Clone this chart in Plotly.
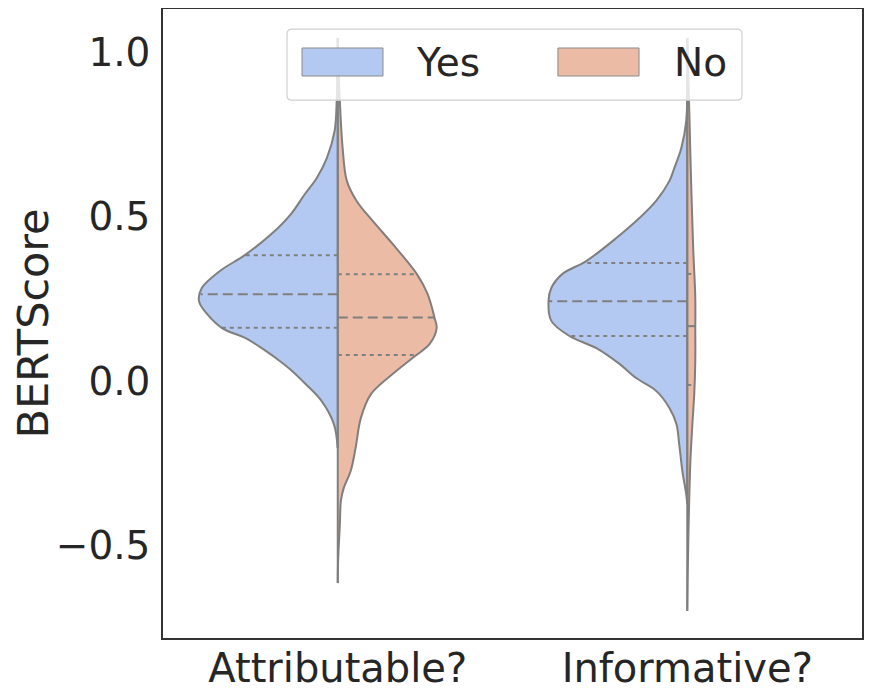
import numpy as np
import plotly.graph_objects as go

# ---- data ----
categories = ["Attributable?", "Informative?"]
hue_levels = ["Yes", "No"]

# KDE profiles: y values (BERTScore) and half-widths (category units)
attr_yes_y = [1.044, 0.852, 0.761, 0.679, 0.618, 0.569, 0.508, 0.447, 0.383, 0.335, 0.283, 0.243,
              0.204, 0.161, 0.131, 0.091, 0.061, 0.030, -0.009, -0.061, -0.131, -0.204]
attr_yes_w = [0.0, 0.003, 0.009, 0.031, 0.060, 0.094, 0.134, 0.190, 0.266, 0.337, 0.389, 0.397,
              0.374, 0.331, 0.265, 0.205, 0.166, 0.130, 0.092, 0.046, 0.011, 0.0]

attr_no_y = [1.044, 0.852, 0.709, 0.609, 0.548, 0.487, 0.417, 0.326, 0.265, 0.192, 0.161, 0.113,
             0.070, 0.021, -0.040, -0.113, -0.204, -0.274, -0.326, -0.365, -0.438, -0.548, -0.615]
attr_no_w = [0.0, 0.006, 0.014, 0.026, 0.054, 0.100, 0.157, 0.226, 0.257, 0.277, 0.283, 0.263,
             0.214, 0.157, 0.095, 0.066, 0.051, 0.037, 0.017, 0.009, 0.006, 0.001, 0.0]

info_yes_y = [1.044, 0.791, 0.709, 0.648, 0.609, 0.548, 0.496, 0.435, 0.365, 0.326, 0.283, 0.243,
              0.183, 0.137, 0.100, 0.052, 0.009, -0.030, -0.082, -0.131, -0.192, -0.274, -0.344, -0.374]
info_yes_w = [0.0, 0.003, 0.017, 0.037, 0.051, 0.089, 0.137, 0.203, 0.289, 0.357, 0.389, 0.397,
              0.389, 0.337, 0.260, 0.194, 0.146, 0.089, 0.051, 0.031, 0.023, 0.014, 0.003, 0.0]

info_no_y = [1.044, 0.813, 0.609, 0.405, 0.253, 0.161, 0.061, -0.040, -0.143, -0.243, -0.344,
             -0.487, -0.609, -0.700]
info_no_w = [0.0, 0.006, 0.011, 0.017, 0.023, 0.023, 0.023, 0.020, 0.014, 0.009, 0.006,
             0.003, 0.001, 0.0]

# quartiles (q1, median, q3)
attr_yes_q = [0.162, 0.264, 0.383]
attr_no_q = [0.079, 0.193, 0.325]
info_yes_q = [0.137, 0.243, 0.359]
info_no_q = [-0.012, 0.167, 0.326]

tick_vals = [-0.5, 0.0, 0.5, 1.0]
tick_text = ["\u22120.5", "0.0", "0.5", "1.0"]

# ---- styling ----
COL_YES = "#B4C9F1"
COL_NO = "#EBBBA5"
EDGE = "#7f7f7f"
TXT = "#262626"
FONT = "DejaVu Sans"

halves = [
    (0, -1, attr_yes_y, attr_yes_w, attr_yes_q, COL_YES),
    (0, +1, attr_no_y, attr_no_w, attr_no_q, COL_NO),
    (1, -1, info_yes_y, info_yes_w, info_yes_q, COL_YES),
    (1, +1, info_no_y, info_no_w, info_no_q, COL_NO),
]

fig = go.Figure()

for c, side, ys, ws, qs, col in halves:
    ys = np.array(ys)
    ws = np.array(ws)
    xs = c + side * ws
    fig.add_trace(go.Scatter(
        x=xs, y=ys, mode="lines", fill="toself", fillcolor=col,
        line=dict(color=EDGE, width=2, shape="spline", smoothing=1.0),
        hoverinfo="skip", showlegend=False))

# center lines
for c, side, ys, ws, qs, col in halves:
    fig.add_trace(go.Scatter(
        x=[c, c], y=[max(ys), min(ys)], mode="lines",
        line=dict(color=EDGE, width=2), hoverinfo="skip", showlegend=False))

# quartile lines
for c, side, ys, ws, qs, col in halves:
    yr = np.array(ys)[::-1]
    wr = np.array(ws)[::-1]
    for i, q in enumerate(qs):
        w = float(np.interp(q, yr, wr))
        dash = "10px,5px" if i == 1 else "4px,4px"
        fig.add_trace(go.Scatter(
            x=[c, c + side * w], y=[q, q], mode="lines",
            line=dict(color=EDGE, width=2, dash=dash),
            hoverinfo="skip", showlegend=False))

# ---- manual legend (paper coords) ----
L, R, T, B = 0.1774, 0.8283, 0.968, 0.855
rx, ry = 5 / 699, 5 / 629
path = (f"M {L+rx},{T} L {R-rx},{T} Q {R},{T} {R},{T-ry} L {R},{B+ry} Q {R},{B} {R-rx},{B} "
        f"L {L+rx},{B} Q {L},{B} {L},{B+ry} L {L},{T-ry} Q {L},{T} {L+rx},{T} Z")
shapes = [dict(type="path", xref="paper", yref="paper", path=path,
               fillcolor="rgba(255,255,255,0.8)", line=dict(color="#d0d0d0", width=1.2),
               layer="above")]
patches = [(0.1989, 0.3147, COL_YES, hue_levels[0], 0.359),
           (0.565, 0.681, COL_NO, hue_levels[1], 0.728)]
annotations = []
for x0, x1, col, lab, tx in patches:
    shapes.append(dict(type="rect", xref="paper", yref="paper", x0=x0, x1=x1,
                       y0=0.8935, y1=0.938, fillcolor=col,
                       line=dict(color="#8a8a8a", width=1), layer="above"))
    annotations.append(dict(xref="paper", yref="paper", x=tx, y=0.9157, text=lab,
                            showarrow=False, xanchor="left", yanchor="middle",
                            font=dict(family=FONT, size=39, color=TXT)))

# page body adds an 8px margin, so the figure is 8px smaller than the window
fig.update_layout(
    width=864, height=690,
    margin=dict(l=155, r=10, t=1, b=60),
    plot_bgcolor="white", paper_bgcolor="white",
    shapes=shapes, annotations=annotations,
    showlegend=False,
    font=dict(family=FONT, color=TXT),
)
fig.update_xaxes(
    range=[-0.5, 1.5], tickmode="array", tickvals=[0, 1], ticktext=categories,
    tickfont=dict(family=FONT, size=40, color=TXT), automargin=False,
    showgrid=False, zeroline=False, showline=True, mirror=True,
    linecolor="#333333", linewidth=1.5,
    ticks="", ticklabelstandoff=-6)
fig.update_yaxes(
    range=[-0.782, 1.132], tickmode="array", tickvals=tick_vals, ticktext=tick_text,
    tickfont=dict(family=FONT, size=39, color=TXT), automargin=False,
    title=dict(text="BERTScore", font=dict(family=FONT, size=43, color=TXT), standoff=14),
    showgrid=False, zeroline=False, showline=True, mirror=True,
    linecolor="#333333", linewidth=1.5,
    ticks="outside", ticklen=3, tickcolor="rgba(0,0,0,0)")

fig.write_html("out.html")
